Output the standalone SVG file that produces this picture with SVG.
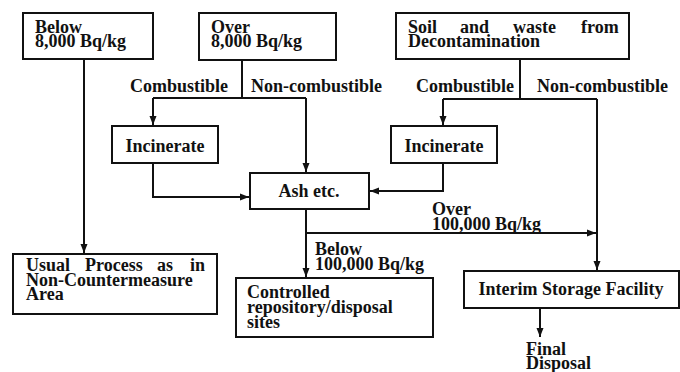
<svg xmlns="http://www.w3.org/2000/svg" width="680" height="372" viewBox="0 0 680 372">
<defs>
<marker id="ar" markerUnits="userSpaceOnUse" markerWidth="10" markerHeight="10" viewBox="0 0 10 10" refX="9" refY="5" orient="auto">
<path d="M0,1.5 L9,5 L0,8.5 Z" fill="#111"/>
</marker>
</defs>
<rect width="680" height="372" fill="#fff"/>
<g id="connectors" fill="none" stroke="#111" stroke-width="2">
<path d="M84,59 V253" marker-end="url(#ar)"/>
<path d="M242,60 V98 M153,98 H306"/>
<path d="M153,98 V125" marker-end="url(#ar)"/>
<path d="M306,98 V172" marker-end="url(#ar)"/>
<path d="M153,163 V197 H249" marker-end="url(#ar)"/>
<path d="M520,59 V99 M443,99 H597"/>
<path d="M443,99 V125" marker-end="url(#ar)"/>
<path d="M597,99 V270" marker-end="url(#ar)"/>
<path d="M443,163 V191 H370" marker-end="url(#ar)"/>
<path d="M306,209 V277" marker-end="url(#ar)"/>
<path d="M306,233 H596" marker-end="url(#ar)"/>
<path d="M540,308 V337" marker-end="url(#ar)"/>
</g>
<g id="boxes" fill="#fff" stroke="#111" stroke-width="2">
<rect id="below8000" x="23" y="13" width="130" height="46"/>
<rect id="over8000" x="199" y="13" width="137" height="47"/>
<rect id="soil" x="396" y="13" width="233" height="46"/>
<rect id="incinerate1" x="112" y="126" width="106" height="37"/>
<rect id="incinerate2" x="391" y="126" width="106" height="37"/>
<rect id="ash" x="250" y="173" width="119" height="36"/>
<rect id="usual" x="13" y="254" width="204" height="60"/>
<rect id="controlled" x="236" y="278" width="197" height="59"/>
<rect id="interim" x="464" y="271" width="215" height="37"/>
</g>
<g id="texts" fill="#111">
<text x="35" y="33" font-family="Liberation Serif" font-weight="bold" font-size="18">Below</text>
<text x="35" y="47" font-family="Liberation Serif" font-weight="bold" font-size="18">8,000 Bq/kg</text>
<text x="211" y="33" font-family="Liberation Serif" font-weight="bold" font-size="18">Over</text>
<text x="211" y="47" font-family="Liberation Serif" font-weight="bold" font-size="18">8,000 Bq/kg</text>
<text y="33" font-family="Liberation Serif" font-weight="bold" font-size="18"><tspan x="408">Soil</tspan><tspan x="460">and</tspan><tspan x="513">waste</tspan><tspan x="581">from</tspan></text>
<text x="408" y="47" font-family="Liberation Serif" font-weight="bold" font-size="18">Decontamination</text>
<text x="130" y="92" font-family="Liberation Serif" font-weight="bold" font-size="18">Combustible</text>
<text x="251" y="92" font-family="Liberation Serif" font-weight="bold" font-size="18">Non-combustible</text>
<text x="416" y="92" font-family="Liberation Serif" font-weight="bold" font-size="18">Combustible</text>
<text x="537" y="92" font-family="Liberation Serif" font-weight="bold" font-size="18">Non-combustible</text>
<text x="165" y="152" text-anchor="middle" font-family="Liberation Serif" font-weight="bold" font-size="18">Incinerate</text>
<text x="444" y="152" text-anchor="middle" font-family="Liberation Serif" font-weight="bold" font-size="18">Incinerate</text>
<text x="309" y="197" text-anchor="middle" font-family="Liberation Serif" font-weight="bold" font-size="18">Ash etc.</text>
<text x="432" y="215" font-family="Liberation Serif" font-weight="bold" font-size="18">Over</text>
<text x="432" y="230" font-family="Liberation Serif" font-weight="bold" font-size="18">100,000 Bq/kg</text>
<text x="315" y="255" font-family="Liberation Serif" font-weight="bold" font-size="18">Below</text>
<text x="315" y="270" font-family="Liberation Serif" font-weight="bold" font-size="18">100,000 Bq/kg</text>
<text y="271" font-family="Liberation Serif" font-weight="bold" font-size="18"><tspan x="26">Usual</tspan><tspan x="85">Process</tspan><tspan x="157">as</tspan><tspan x="190">in</tspan></text>
<text x="26" y="286" font-family="Liberation Serif" font-weight="bold" font-size="18">Non-Countermeasure</text>
<text x="26" y="300" font-family="Liberation Serif" font-weight="bold" font-size="18">Area</text>
<text x="247" y="298" font-family="Liberation Serif" font-weight="bold" font-size="18">Controlled</text>
<text x="247" y="313" font-family="Liberation Serif" font-weight="bold" font-size="18">repository/disposal</text>
<text x="247" y="328" font-family="Liberation Serif" font-weight="bold" font-size="18">sites</text>
<text x="571" y="295" text-anchor="middle" font-family="Liberation Serif" font-weight="bold" font-size="18">Interim Storage Facility</text>
<text x="526" y="355" font-family="Liberation Serif" font-weight="bold" font-size="18">Final</text>
<text x="526" y="369" font-family="Liberation Serif" font-weight="bold" font-size="18">Disposal</text>
</g>
</svg>
